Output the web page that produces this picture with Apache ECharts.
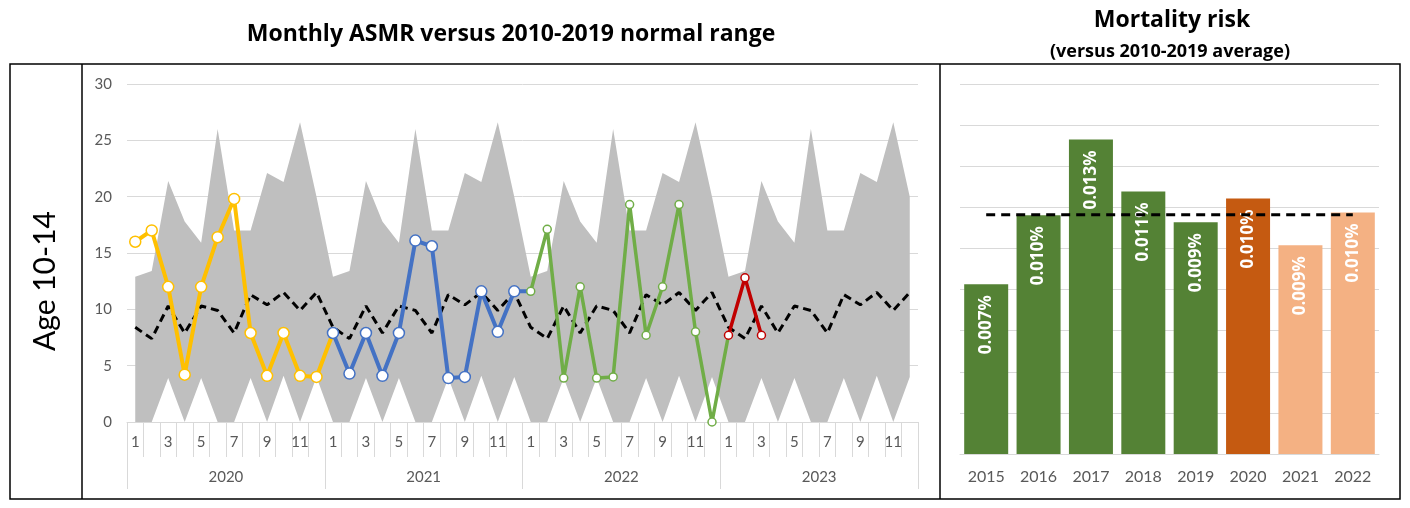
<!DOCTYPE html>
<html>
<head>
<meta charset="utf-8">
<script src="https://cdn.jsdelivr.net/npm/echarts@6/dist/echarts.min.js"></script>
<style>
html,body{margin:0;padding:0;background:#fff;}
#c{width:1410px;height:508px;}
</style>
</head>
<body>
<div id="c"></div>
<script>
// ---------- data ----------
const years = ['2020', '2021', '2022', '2023'];
const monthNums = ['1','2','3','4','5','6','7','8','9','10','11','12'];

// 2010-2019 normal range by month (min / max) and average
const normalLow  = [0, 0, 3.9, 0, 3.9, 0, 0, 3.9, 0, 4.1, 0, 4.0];
const normalHigh = [12.9, 13.4, 21.4, 17.8, 15.9, 26.0, 17.0, 17.0, 22.1, 21.3, 26.6, 20.0];
const normalMean = [8.4, 7.4, 10.3, 7.9, 10.3, 9.9, 7.9, 11.3, 10.4, 11.5, 9.9, 11.5];

// monthly ASMR
const asmr2020 = [16.0, 17.0, 12.0, 4.2, 12.0, 16.4, 19.8, 7.9, 4.1, 7.9, 4.1, 4.0];
const asmr2021 = [7.9, 4.3, 7.9, 4.1, 7.9, 16.1, 15.6, 3.9, 4.0, 11.6, 8.0, 11.6];
const asmr2022 = [11.6, 17.1, 3.9, 12.0, 3.9, 4.0, 19.3, 7.7, 12.0, 19.3, 8.0, 0.0];
const asmr2023 = [7.7, 12.8, 7.7];

// mortality risk (%) per year and the 2010-2019 average
const riskYears = ['2015','2016','2017','2018','2019','2020','2021','2022'];
const riskPct   = [0.00694, 0.00976, 0.01285, 0.01073, 0.00947, 0.01044, 0.00853, 0.00987];
const riskAvg   = 0.00978;

// ---------- build ----------
const FONT = 'Lato';
const TFONT = '"Open Sans"';
const monthCats = [];
years.forEach(() => monthNums.forEach(m => monthCats.push(m)));
const low48 = [], diff48 = [], mean48 = [];
years.forEach(() => {
  normalLow.forEach((v, i) => {
    low48.push(v);
    diff48.push(+(normalHigh[i] - v).toFixed(2));
    mean48.push(normalMean[i]);
  });
});

function yearSeries(idx, vals, nextFirst, color, size, width) {
  const data = new Array(48).fill(null);
  vals.forEach((v, i) => { data[idx * 12 + i] = v; });
  if (nextFirst !== undefined) data[idx * 12 + vals.length] = { value: nextFirst, symbol: 'none' };
  return {
    type: 'line', xAxisIndex: 0, yAxisIndex: 0, data: data,
    symbol: 'circle', symbolSize: size, showAllSymbol: true,
    lineStyle: { color: color, width: width },
    itemStyle: { color: '#ffffff', borderColor: color, borderWidth: 1.5 },
    emphasis: { disabled: true }, z: 5 + idx, animation: false
  };
}

const barColors = ['#548235','#548235','#548235','#548235','#548235','#C55A11','#F4B183','#F4B183'];

const chart = echarts.init(document.getElementById('c'), null, { renderer: 'canvas' });
const axisGrey = '#595959';
const gridGrey = '#D9D9D9';

chart.setOption({
  animation: false,
  textStyle: { fontFamily: FONT },
  grid: [
    { left: 127, right: 492, top: 84, bottom: 86 },
    { left: 960, right: 31, top: 84, bottom: 54 }
  ],
  xAxis: [
    {
      type: 'category', gridIndex: 0, data: monthCats, boundaryGap: true,
      axisLine: { lineStyle: { color: gridGrey } },
      axisTick: { show: true, interval: 0, length: 35, lineStyle: { color: gridGrey } },
      axisLabel: { interval: 1, margin: 13, color: axisGrey, fontSize: 15, fontFamily: FONT }
    },
    {
      type: 'category', gridIndex: 0, data: years, position: 'bottom', boundaryGap: true,
      axisLine: { show: false },
      axisTick: { show: true, interval: 0, length: 67, lineStyle: { color: gridGrey } },
      axisLabel: { margin: 48, color: axisGrey, fontSize: 15, fontFamily: FONT }
    },
    {
      type: 'category', gridIndex: 1, data: riskYears,
      axisLine: { lineStyle: { color: gridGrey } },
      axisTick: { show: false },
      axisLabel: { margin: 15, color: axisGrey, fontSize: 16, fontFamily: FONT }
    }
  ],
  yAxis: [
    {
      type: 'value', gridIndex: 0, min: 0, max: 30, interval: 5,
      axisLine: { show: false }, axisTick: { show: false },
      axisLabel: { margin: 15, color: axisGrey, fontSize: 15, fontFamily: FONT },
      splitLine: { lineStyle: { color: gridGrey } }
    },
    {
      type: 'value', gridIndex: 1, min: 0, max: 0.01512, interval: 0.00168,
      axisLine: { show: false }, axisTick: { show: false },
      axisLabel: { show: false },
      splitLine: { lineStyle: { color: gridGrey } }
    }
  ],
  series: [
    {
      type: 'line', xAxisIndex: 0, yAxisIndex: 0, data: low48, stack: 'band',
      symbol: 'none', lineStyle: { width: 0, opacity: 0 }, silent: true, z: 1
    },
    {
      type: 'line', xAxisIndex: 0, yAxisIndex: 0, data: diff48, stack: 'band',
      symbol: 'none', lineStyle: { width: 0, opacity: 0 },
      areaStyle: { color: '#BFBFBF', opacity: 1 }, silent: true, z: 1
    },
    {
      type: 'line', xAxisIndex: 0, yAxisIndex: 0, data: mean48, symbol: 'none',
      lineStyle: { color: '#000000', width: 3, type: [8, 5] }, silent: true, z: 3
    },
    yearSeries(0, asmr2020, asmr2021[0], '#FFC000', 11, 4),
    yearSeries(1, asmr2021, asmr2022[0], '#4472C4', 11, 4),
    yearSeries(2, asmr2022, asmr2023[0], '#70AD47', 8, 3.5),
    yearSeries(3, asmr2023, undefined, '#C00000', 8, 3.5),
    {
      type: 'bar', xAxisIndex: 2, yAxisIndex: 1, barWidth: 44,
      data: riskPct.map((v, i) => ({ value: v, itemStyle: { color: barColors[i] } })),
      label: {
        show: true, position: 'insideTop', distance: 11, rotate: 90,
        align: 'right', verticalAlign: 'middle',
        color: '#ffffff', fontWeight: 'bold', fontSize: 17, fontFamily: TFONT,
        formatter: p => p.value.toFixed(3) + '%'
      },
      silent: true, z: 2
    },
    {
      type: 'line', xAxisIndex: 2, yAxisIndex: 1,
      data: riskYears.map(() => riskAvg), symbol: 'none',
      lineStyle: { color: '#000000', width: 3, type: [9, 6] }, silent: true, z: 4
    }
  ],
  graphic: [
    { type: 'rect', shape: { x: 10, y: 64, width: 1390, height: 435 },
      style: { fill: 'none', stroke: '#000', lineWidth: 1.5 }, silent: true },
    { type: 'line', shape: { x1: 82, y1: 64, x2: 82, y2: 499 },
      style: { stroke: '#000', lineWidth: 1.5 }, silent: true },
    { type: 'line', shape: { x1: 940, y1: 64, x2: 940, y2: 499 },
      style: { stroke: '#000', lineWidth: 1.5 }, silent: true },
    { type: 'text', x: 511, y: 34, silent: true,
      style: { text: 'Monthly ASMR versus 2010-2019 normal range', fill: '#000',
        font: 'bold 23px ' + TFONT, textAlign: 'center', textVerticalAlign: 'middle', align: 'center', verticalAlign: 'middle' } },
    { type: 'text', x: 1172, y: 20, silent: true,
      style: { text: 'Mortality risk', fill: '#000',
        font: 'bold 23px ' + TFONT, textAlign: 'center', textVerticalAlign: 'middle', align: 'center', verticalAlign: 'middle' } },
    { type: 'text', x: 1170, y: 52, silent: true,
      style: { text: '(versus 2010-2019 average)', fill: '#000',
        font: 'bold 18px ' + TFONT, textAlign: 'center', textVerticalAlign: 'middle', align: 'center', verticalAlign: 'middle' } },
    { type: 'text', x: 45, y: 281, rotation: Math.PI / 2, silent: true,
      style: { text: 'Age 10-14', fill: '#000',
        font: '30px ' + FONT, textAlign: 'center', textVerticalAlign: 'middle', align: 'center', verticalAlign: 'middle' } }
  ]
});
</script>
</body>
</html>
